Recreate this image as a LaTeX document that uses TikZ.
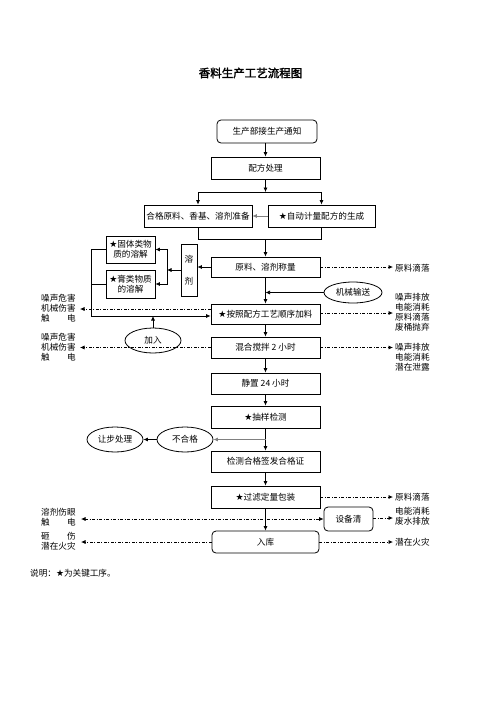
\documentclass[tikz,border=0pt]{standalone}
\usepackage{fontspec}
\setmainfont{Noto Sans CJK SC}
\newfontfamily\symf{DejaVu Sans}
\newfontfamily\titlef[FakeBold=2]{Noto Sans CJK SC}
\usetikzlibrary{arrows.meta,shapes.geometric}
\newcommand\stx{{\symf\fontsize{9}{10}\selectfont ★}}
\begin{document}
\begin{tikzpicture}[x=1pt,y=-1pt,
  every node/.style={font=\fontsize{8.6}{10}\selectfont, inner sep=1pt},
  box/.style={draw, line width=0.8pt, minimum width=109pt, minimum height=21pt, align=center},
  rbox/.style={box, rounded corners=4pt},
  oval/.style={draw, ellipse, line width=0.8pt, minimum width=56pt, minimum height=25pt, inner sep=0pt},
  arr/.style={line width=0.7pt, -{Latex[length=4.5pt,width=4pt]}},
  ln/.style={line width=0.7pt},
  dd/.style={line width=0.7pt, dash pattern={on 3pt off 1.5pt on 1pt off 1.5pt}},
  lbl/.style={anchor=west, align=left}
]
\useasboundingbox (0,0) rectangle (496,702);
\node[font=\titlef\fontsize{11.5}{13}\selectfont] (title) at (250.5,73) {香料生产工艺流程图};

% main column
\node[rbox, minimum width=100pt, minimum height=23pt] (top) at (267,131.5) {生产部接生产通知};
\node[box, minimum height=22pt] (cfg) at (265.5,168) {配方处理};
\node[box, minimum width=108pt, minimum height=22pt] (ok) at (198,216) {合格原料、香基、溶剂准备};
\node[box, minimum width=107pt, minimum height=22pt] (auto) at (321.5,216) {\stx 自动计量配方的生成};
\node[box, minimum height=20pt] (raw) at (265.5,267) {原料、溶剂称量};
\node[box, minimum width=16pt, minimum height=52pt, inner sep=0pt] (solv) at (189,270) {溶\\[12pt]剂};
\node[box, minimum width=49pt, minimum height=27pt, inner sep=0pt] (solid) at (130.5,249.5) {\stx 固体类物\\质的溶解};
\node[box, minimum width=49pt, minimum height=28pt, inner sep=0pt] (paste) at (130.5,284) {\stx 膏类物质\\的溶解};
\node[oval, minimum width=58pt, minimum height=21pt] (mech) at (353,292.5) {机械输送};
\node[box, minimum height=20pt] (add) at (265.5,314) {\stx 按照配方工艺顺序加料};
\node[oval] (join) at (153,340.5) {加入};
\node[box] (mix) at (265.5,347.5) {混合搅拌 2 小时};
\node[box] (still) at (265.5,383.5) {静置 24 小时};
\node[box, minimum height=22pt] (samp) at (265.5,417) {\stx 抽样检测};
\node[oval] (no) at (185,439.5) {不合格};
\node[oval] (yield) at (115,439.5) {让步处理};
\node[box] (check) at (265.5,461.5) {检测合格签发合格证};
\node[box, minimum height=22pt] (filt) at (265.5,497) {\stx 过滤定量包装};
\node[rbox, minimum width=107pt, minimum height=22pt] (store) at (265.5,542) {入库};
\node[rbox, minimum width=49pt, minimum height=24pt] (clean) at (348.5,519) {设备清};

% main connectors
\draw[arr] (top.south -| cfg.north) -- (cfg.north);
\coordinate (s1) at (265.5,192);
\draw[arr] (cfg.south) -- (s1);
\draw[arr] (s1) -| (ok.north);
\draw[arr] (s1) -| (auto.north);
\draw[arr, draw=gray] (auto.west) -- (ok.east);
\coordinate (m1) at (265.5,239);
\draw[ln] (ok.south) |- (m1);
\draw[ln] (auto.south) |- (m1);
\draw[arr] (m1) -- (raw.north);
\draw[arr] (raw.west) -- (raw.west -| solv.east);
\coordinate (j1) at (167,270);
\draw[arr] (solv.west) -- (j1);
\draw[arr] (j1) |- (solid.east);
\draw[arr] (j1) |- (paste.east);
\coordinate (l1) at (91,316);
\draw[ln] (solid.west) -| (l1);
\draw[ln] (paste.west) -- (paste.west -| l1);
\draw[arr] (l1) -- (l1 -| add.west);
\draw[arr] (join.north) -- (join.north |- l1);
\draw[arr] (mech.west) -- (mech.west -| raw.south);
\draw[arr] (raw.south) -- (add.north);
\draw[arr] (add.south) -- (mix.north);
\draw[arr] (mix.south) -- (still.north);
\draw[arr] (still.south) -- (samp.north);
\draw[arr] (samp.south) -- (check.north);
\draw[arr, draw=gray] (no.east -| samp.south) -- (no.east);
\draw[arr] (no.west) -- (yield.east);
\draw[arr] (check.south) -- (filt.north);
\draw[arr] (filt.south) -- (store.north);

% left hazard texts
\node[lbl] (h1) at (40,308.5) {噪声危害\\机械伤害\\触　　电};
\node[lbl] (h2) at (40,347) {噪声危害\\机械伤害\\触　　电};
\node[lbl] (h3) at (40,517) {溶剂伤眼\\触　　电};
\node[lbl] (h4) at (40,541.5) {砸　　伤\\潜在火灾};
\coordinate (n1) at (80,309);
\coordinate (n2) at (80,347.5);
\coordinate (n3) at (81,519);
\coordinate (n4) at (81,542);
\draw[dd, arr] (n1 -| add.west) -- (n1);
\draw[dd, arr] (mix.west) -- (n2);
\draw[dd, {Latex[length=4.5pt,width=4pt]}-{Latex[length=4.5pt,width=4pt]}] (n3) -- (clean.west);
\draw[dd, arr] (store.west) -- (n4);

% right emission texts
\node[lbl] (e1) at (394,268) {原料滴落};
\node[lbl] (e2) at (394,312) {噪声排放\\电能消耗\\原料滴落\\废桶抛弃};
\node[lbl] (e3) at (394,357) {噪声排放\\电能消耗\\潜在泄露};
\node[lbl] (e4) at (394,497) {原料滴落};
\node[lbl] (e5) at (394,516) {电能消耗\\废水排放};
\node[lbl] (e6) at (394,542) {潜在火灾};
\coordinate (r1) at (393,267);
\coordinate (r2) at (393,313);
\coordinate (r3) at (393,347.5);
\coordinate (r4) at (393,497);
\coordinate (r5) at (393,518);
\coordinate (r6) at (393,542);
\draw[dd, arr] (raw.east) -- (r1);
\draw[dd, arr] (r2 -| add.east) -- (r2);
\draw[dd, arr] (mix.east) -- (r3);
\draw[dd, arr] (filt.east) -- (r4);
\draw[dd, arr] (r5 -| clean.east) -- (r5);
\draw[dd, arr] (store.east) -- (r6);

\node[anchor=west] (note) at (29,573) {说明：\stx 为关键工序。};
\end{tikzpicture}
\end{document}
